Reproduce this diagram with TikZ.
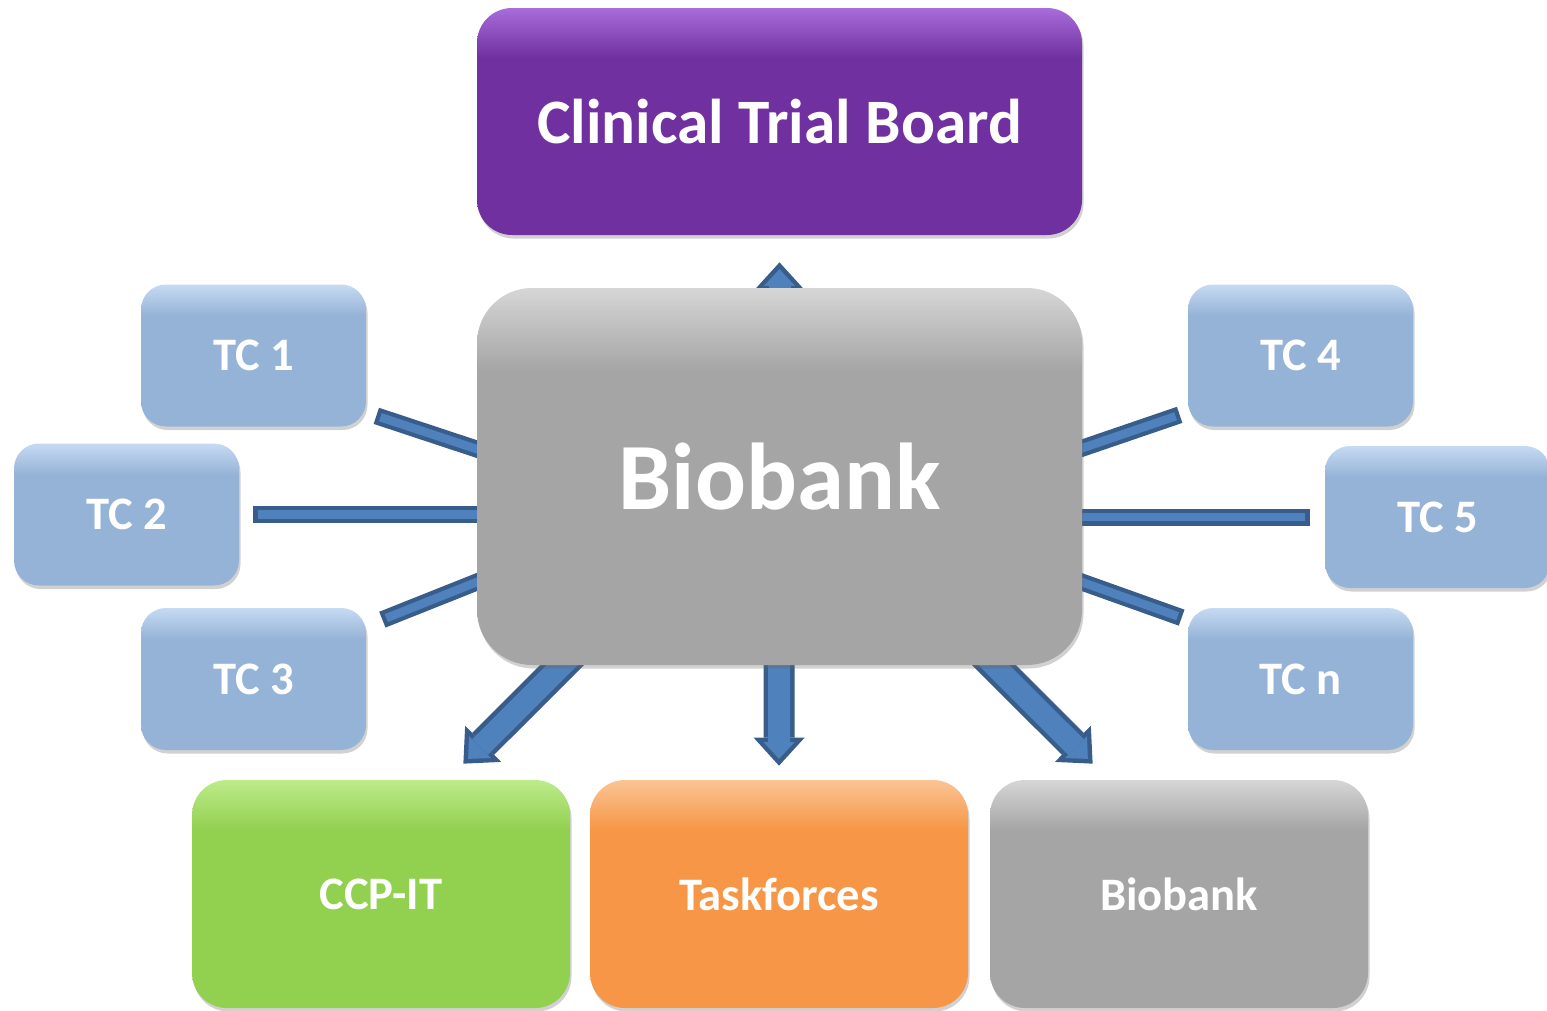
\documentclass[tikz,border=0pt]{standalone}
\usepackage{fontspec}
\setmainfont{Carlito}
\usetikzlibrary{positioning}
\usetikzlibrary{arrows.meta}
\usetikzlibrary{shadows}
\usetikzlibrary{backgrounds}
\usetikzlibrary{calc}

\definecolor{ctbpurple}{HTML}{7030A0}
\definecolor{ctbpurplel}{HTML}{A86DDA}
\definecolor{biogray}{HTML}{A5A5A5}
\definecolor{biograyl}{HTML}{D6D6D6}
\definecolor{tcblue}{HTML}{95B3D7}
\definecolor{tcbluel}{HTML}{C6DAF2}
\definecolor{ccpgreen}{HTML}{92D050}
\definecolor{ccpgreenl}{HTML}{BDEB8A}
\definecolor{tforange}{HTML}{F79646}
\definecolor{tforangel}{HTML}{FAC494}
\definecolor{linkfill}{HTML}{4F81BD}
\definecolor{linkdraw}{HTML}{385D8A}

\pgfdeclareverticalshading{glosspurple}{100bp}{color(0bp)=(ctbpurple); color(64bp)=(ctbpurple); color(75bp)=(ctbpurplel); color(100bp)=(ctbpurplel)}
\pgfdeclareverticalshading{glossgray}{100bp}{color(0bp)=(biogray); color(64bp)=(biogray); color(75bp)=(biograyl); color(100bp)=(biograyl)}
\pgfdeclareverticalshading{glossblue}{100bp}{color(0bp)=(tcblue); color(64bp)=(tcblue); color(75bp)=(tcbluel); color(100bp)=(tcbluel)}
\pgfdeclareverticalshading{glossgreen}{100bp}{color(0bp)=(ccpgreen); color(64bp)=(ccpgreen); color(75bp)=(ccpgreenl); color(100bp)=(ccpgreenl)}
\pgfdeclareverticalshading{glossorange}{100bp}{color(0bp)=(tforange); color(64bp)=(tforange); color(75bp)=(tforangel); color(100bp)=(tforangel)}

\tikzset{
    softshadow/.style = {drop shadow={opacity=0.3, fill=black!60, shadow xshift=0.03cm, shadow yshift=-0.07cm}},
    ctbnode/.style = {rectangle, rounded corners=0.7cm, minimum width=12.1cm, minimum height=4.54cm, inner sep=0, shading=glosspurple, softshadow, text=white, font=\bfseries\fontsize{36}{40}\selectfont},
    bignode/.style = {rectangle, rounded corners=1.1cm, minimum width=12.1cm, minimum height=7.54cm, inner sep=0, shading=glossgray, softshadow, text=white, font=\bfseries\fontsize{54}{60}\selectfont},
    tcnode/.style = {rectangle, rounded corners=0.5cm, minimum width=4.5cm, minimum height=2.84cm, inner sep=0, shading=glossblue, softshadow, text=white, font=\bfseries\fontsize{26.5}{30}\selectfont},
    ccpnode/.style = {rectangle, rounded corners=0.7cm, minimum width=7.56cm, minimum height=4.56cm, inner sep=0, shading=glossgreen, softshadow, text=white, font=\bfseries\fontsize{26.5}{30}\selectfont},
    tasknode/.style = {rectangle, rounded corners=0.7cm, minimum width=7.56cm, minimum height=4.56cm, inner sep=0, shading=glossorange, softshadow, text=white, font=\bfseries\fontsize{26.5}{30}\selectfont},
    bbknode/.style = {rectangle, rounded corners=0.7cm, minimum width=7.56cm, minimum height=4.56cm, inner sep=0, shading=glossgray, softshadow, text=white, font=\bfseries\fontsize{26.5}{30}\selectfont},
    link/.style = {line width=0.34cm, linkdraw}, % bar border
    linkin/.style = {line width=0.17cm, linkfill, shorten <=0.085cm, shorten >=0.085cm}, % bar fill
    bigarrow/.style = {line width=0.62cm, linkdraw, -{Triangle[width=1.02cm,length=0.56cm,line width=0pt]}},
    bigarrowin/.style = {line width=0.44cm, linkfill, shorten >=0.135cm, -{Triangle[width=0.62cm,length=0.335cm,line width=0pt]}}
}

\begin{document}
\begin{tikzpicture}
\useasboundingbox (0,0) rectangle (30.94,-20.2);

\node[ctbnode] at (15.59, -2.43) (ctb) {Clinical Trial Board};
\node[bignode] at (15.59, -9.53) (bio) {Biobank};

\node[tcnode] at ( 5.07,  -7.11) (tc1) {TC 1};
\node[tcnode] at ( 2.53, -10.29) (tc2) {TC 2};
\node[tcnode] at ( 5.07, -13.58) (tc3) {TC 3};
\node[tcnode] at (26.01,  -7.11) (tc4) {TC 4};
\node[tcnode] at (28.75, -10.34) (tc5) {TC 5};
\node[tcnode] at (26.01, -13.58) (tcn) {TC n};

\node[ccpnode]  at ( 7.62, -17.88) (ccp)  {CCP-IT};
\node[tasknode] at (15.58, -17.88) (task) {Taskforces};
\node[bbknode]  at (23.58, -17.88) (bbk)  {Biobank};

\begin{scope}[on background layer]
\draw[link]   ($(tc1.south east)+(0.2,0.22)$) -- ($(bio.west)+(1.66,0)$);
\draw[linkin] ($(tc1.south east)+(0.2,0.22)$) -- ($(bio.west)+(1.66,0)$);
\draw[link]   ($(tc2.east)+(0.28,0)$) -- (tc2.east -| bio.center);
\draw[linkin] ($(tc2.east)+(0.28,0)$) -- (tc2.east -| bio.center);
\draw[link]   ($(tc3.north east)+(0.32,-0.24)$) -- ($(bio.west)+(1.66,-1.45)$);
\draw[linkin] ($(tc3.north east)+(0.32,-0.24)$) -- ($(bio.west)+(1.66,-1.45)$);
\draw[link]   ($(tc4.south west)+(-0.16,0.24)$) -- ($(bio.east)+(-1.66,0)$);
\draw[linkin] ($(tc4.south west)+(-0.16,0.24)$) -- ($(bio.east)+(-1.66,0)$);
\draw[link]   ($(tc5.west)+(-0.3,0)$) -- (tc5.west -| bio.center);
\draw[linkin] ($(tc5.west)+(-0.3,0)$) -- (tc5.west -| bio.center);
\draw[link]   ($(tcn.north west)+(-0.12,-0.2)$) -- ($(bio.east)+(-1.64,-1.53)$);
\draw[linkin] ($(tcn.north west)+(-0.12,-0.2)$) -- ($(bio.east)+(-1.64,-1.53)$);

\draw[bigarrow]   (bio.center) -- ($(ctb.south)+(0,-0.54)$);
\draw[bigarrowin] (bio.center) -- ($(ctb.south)+(0,-0.54)$);
\draw[bigarrow]   (bio.center) -- ($(task.north)+(0,0.28)$);
\draw[bigarrowin] (bio.center) -- ($(task.north)+(0,0.28)$);
\draw[bigarrow]   ($(bio.south)+(-2.33,2.02)$) -- ($(ccp.north east)+(-2.14,0.32)$);
\draw[bigarrowin] ($(bio.south)+(-2.33,2.02)$) -- ($(ccp.north east)+(-2.14,0.32)$);
\draw[bigarrow]   ($(bio.south)+(2.27,2.02)$) -- ($(bbk.north west)+(2.06,0.32)$);
\draw[bigarrowin] ($(bio.south)+(2.27,2.02)$) -- ($(bbk.north west)+(2.06,0.32)$);
\end{scope}

\end{tikzpicture}
\end{document}
